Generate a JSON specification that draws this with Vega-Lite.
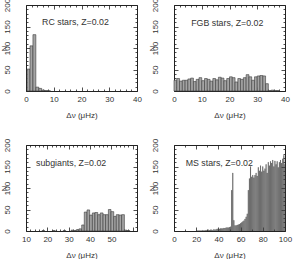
{
  "$schema": "https://vega.github.io/schema/vega-lite/v6.json",
  "autosize": "none",
  "padding": {"left": 26, "top": 5, "right": 269, "bottom": 254},
  "background": "white",
  "datasets": {
    "rc": [
      {"x0": 0.4, "x1": 1.45, "n": 51}, {"x0": 1.45, "x1": 2.5, "n": 105}, {"x0": 2.5, "x1": 3.55, "n": 131},
      {"x0": 3.55, "x1": 4.6, "n": 9}, {"x0": 4.6, "x1": 5.65, "n": 6}, {"x0": 5.65, "x1": 6.7, "n": 2},
      {"x0": 6.7, "x1": 7.75, "n": 1}, {"x0": 7.75, "x1": 8.8, "n": 0.5}
    ],
    "fgb": [
      {"x0": 0, "x1": 1, "n": 25}, {"x0": 1, "x1": 2, "n": 29}, {"x0": 2, "x1": 3, "n": 23}, {"x0": 3, "x1": 4, "n": 25},
      {"x0": 4, "x1": 5, "n": 25}, {"x0": 5, "x1": 6, "n": 28}, {"x0": 6, "x1": 7, "n": 30}, {"x0": 7, "x1": 8, "n": 22},
      {"x0": 8, "x1": 9, "n": 27}, {"x0": 9, "x1": 10, "n": 31}, {"x0": 10, "x1": 11, "n": 24}, {"x0": 11, "x1": 12, "n": 29},
      {"x0": 12, "x1": 13, "n": 27}, {"x0": 13, "x1": 14, "n": 23}, {"x0": 14, "x1": 15, "n": 29}, {"x0": 15, "x1": 16, "n": 26},
      {"x0": 16, "x1": 17, "n": 32}, {"x0": 17, "x1": 18, "n": 30}, {"x0": 18, "x1": 19, "n": 24}, {"x0": 19, "x1": 20, "n": 29},
      {"x0": 20, "x1": 21, "n": 33}, {"x0": 21, "x1": 22, "n": 31}, {"x0": 22, "x1": 23, "n": 21}, {"x0": 23, "x1": 24, "n": 29},
      {"x0": 24, "x1": 25, "n": 27}, {"x0": 25, "x1": 26, "n": 31}, {"x0": 26, "x1": 27, "n": 38}, {"x0": 27, "x1": 28, "n": 33},
      {"x0": 28, "x1": 29, "n": 25}, {"x0": 29, "x1": 30, "n": 33}, {"x0": 30, "x1": 31, "n": 35}, {"x0": 31, "x1": 32, "n": 36},
      {"x0": 32, "x1": 33, "n": 35}, {"x0": 33, "x1": 34, "n": 17}, {"x0": 34, "x1": 35, "n": 1}, {"x0": 35, "x1": 36, "n": 2},
      {"x0": 36, "x1": 37, "n": 1}, {"x0": 37, "x1": 38, "n": 1}
    ],
    "sg": [
      {"x0": 17.5, "x1": 18.7, "n": 1}, {"x0": 22.5, "x1": 23.7, "n": 1}, {"x0": 27.4, "x1": 28.6, "n": 1},
      {"x0": 31.1, "x1": 32.3, "n": 2}, {"x0": 32.3, "x1": 33.5, "n": 1}, {"x0": 33.5, "x1": 34.8, "n": 3},
      {"x0": 34.8, "x1": 36.1, "n": 5}, {"x0": 36.1, "x1": 37.3, "n": 14}, {"x0": 37.3, "x1": 38.6, "n": 44},
      {"x0": 38.6, "x1": 39.8, "n": 49}, {"x0": 39.8, "x1": 41.1, "n": 37}, {"x0": 41.1, "x1": 42.3, "n": 42},
      {"x0": 42.3, "x1": 43.6, "n": 43}, {"x0": 43.6, "x1": 44.8, "n": 38}, {"x0": 44.8, "x1": 46.1, "n": 42},
      {"x0": 46.1, "x1": 47.3, "n": 38}, {"x0": 47.3, "x1": 48.6, "n": 38}, {"x0": 48.6, "x1": 49.8, "n": 50},
      {"x0": 49.8, "x1": 51.1, "n": 45}, {"x0": 51.1, "x1": 52.3, "n": 34}, {"x0": 52.3, "x1": 53.6, "n": 38},
      {"x0": 53.6, "x1": 54.8, "n": 37}, {"x0": 54.8, "x1": 56.1, "n": 38}, {"x0": 56.1, "x1": 57.3, "n": 2},
      {"x0": 57.3, "x1": 58.6, "n": 1}
    ],
    "ms": [
      {"x0": 20, "n": 1}, {"x0": 21, "n": 1}, {"x0": 22, "n": 1}, {"x0": 23, "n": 1}, {"x0": 24, "n": 1},
      {"x0": 25, "n": 2}, {"x0": 26, "n": 1}, {"x0": 27, "n": 2}, {"x0": 28, "n": 2}, {"x0": 29, "n": 2},
      {"x0": 30, "n": 3}, {"x0": 31, "n": 2}, {"x0": 32, "n": 3}, {"x0": 33, "n": 3}, {"x0": 34, "n": 2},
      {"x0": 35, "n": 4}, {"x0": 36, "n": 3}, {"x0": 37, "n": 4}, {"x0": 38, "n": 5}, {"x0": 39, "n": 4},
      {"x0": 40, "n": 5}, {"x0": 41, "n": 6}, {"x0": 42, "n": 6}, {"x0": 43, "n": 6}, {"x0": 44, "n": 7},
      {"x0": 45, "n": 7}, {"x0": 46, "n": 8}, {"x0": 47, "n": 8}, {"x0": 48, "n": 8}, {"x0": 49, "n": 9},
      {"x0": 50, "n": 10}, {"x0": 51, "n": 95}, {"x0": 52, "n": 135}, {"x0": 53, "n": 25}, {"x0": 54, "n": 13},
      {"x0": 55, "n": 13}, {"x0": 56, "n": 14}, {"x0": 57, "n": 15}, {"x0": 58, "n": 16}, {"x0": 59, "n": 18},
      {"x0": 60, "n": 20}, {"x0": 61, "n": 22}, {"x0": 62, "n": 24}, {"x0": 63, "n": 28}, {"x0": 64, "n": 33},
      {"x0": 65, "n": 40}, {"x0": 66, "n": 95}, {"x0": 67, "n": 122}, {"x0": 68, "n": 150}, {"x0": 69, "n": 126},
      {"x0": 70, "n": 130}, {"x0": 71, "n": 124}, {"x0": 72, "n": 130}, {"x0": 73, "n": 135}, {"x0": 74, "n": 128},
      {"x0": 75, "n": 148}, {"x0": 76, "n": 140}, {"x0": 77, "n": 152}, {"x0": 78, "n": 138}, {"x0": 79, "n": 150},
      {"x0": 80, "n": 140}, {"x0": 81, "n": 145}, {"x0": 82, "n": 155}, {"x0": 83, "n": 135}, {"x0": 84, "n": 160},
      {"x0": 85, "n": 152}, {"x0": 86, "n": 162}, {"x0": 87, "n": 158}, {"x0": 88, "n": 165}, {"x0": 89, "n": 150},
      {"x0": 90, "n": 163}, {"x0": 91, "n": 155}, {"x0": 92, "n": 162}, {"x0": 93, "n": 148}, {"x0": 94, "n": 160},
      {"x0": 95, "n": 165}, {"x0": 96, "n": 158}, {"x0": 97, "n": 168}, {"x0": 98, "n": 176}, {"x0": 99, "n": 155}
    ]
  },
  "columns": 2,
  "spacing": {"row": 54, "column": 37},
  "bounds": "flush",
  "concat": [
    {
      "width": 111, "height": 86,
      "layer": [
        {
          "data": {"name": "rc"},
          "mark": {"type": "bar", "fill": "#a4a4a4", "stroke": "#3a3a3a", "strokeWidth": 0.6},
          "encoding": {
            "x": {"field": "x0", "type": "quantitative", "scale": {"domain": [0, 40], "nice": false, "zero": false},
              "axis": {"orient": "bottom", "values": [0,2,4,6,8,10,12,14,16,18,20,22,24,26,28,30,32,34,36,38,40],
                "labelExpr": "datum.value % 10 === 0 ? datum.label : ''",
                "tickSize": {"condition": {"test": "datum.value % 10 === 0", "value": -4}, "value": -2},
                "labelPadding": 8, "labelAngle": 0, "labelOverlap": false, "labelFlush": false,
                "title": "Δν (μHz)", "titlePadding": 6}},
            "x2": {"field": "x1"},
            "y": {"field": "n", "type": "quantitative", "scale": {"domain": [0, 200], "nice": false},
              "axis": {"orient": "left", "values": [0,10,20,30,40,50,60,70,80,90,100,110,120,130,140,150,160,170,180,190,200],
                "labelExpr": "datum.value % 50 === 0 ? datum.label : ''",
                "tickSize": {"condition": {"test": "datum.value % 50 === 0", "value": -4}, "value": -2},
                "labelAngle": -90, "labelAlign": "center", "labelBaseline": "bottom", "labelPadding": 19,
                "labelOverlap": false, "labelFlush": false,
                "title": "N", "titlePadding": -7}},
            "y2": {"datum": 0}
          }
        },
        {
          "data": {"values": [{"tx": 5.8, "ty": 160, "label": "RC stars, Z=0.02"}]},
          "mark": {"type": "text", "align": "left", "baseline": "middle", "font": "Liberation Sans", "fontSize": 8.8, "color": "#333"},
          "encoding": {
            "x": {"field": "tx", "type": "quantitative",
              "axis": {"orient": "top", "values": [0,2,4,6,8,10,12,14,16,18,20,22,24,26,28,30,32,34,36,38,40],
                "labels": false, "title": null,
                "tickSize": {"condition": {"test": "datum.value % 10 === 0", "value": -4}, "value": -2}}},
            "y": {"field": "ty", "type": "quantitative",
              "axis": {"orient": "right", "values": [0,10,20,30,40,50,60,70,80,90,100,110,120,130,140,150,160,170,180,190,200],
                "labels": false, "title": null,
                "tickSize": {"condition": {"test": "datum.value % 50 === 0", "value": -4}, "value": -2}}},
            "text": {"field": "label"}
          }
        }
      ],
      "resolve": {"axis": {"x": "independent", "y": "independent"}}
    },
    {
      "width": 111, "height": 86,
      "layer": [
        {
          "data": {"name": "fgb"},
          "mark": {"type": "bar", "fill": "#a4a4a4", "stroke": "#3a3a3a", "strokeWidth": 0.6},
          "encoding": {
            "x": {"field": "x0", "type": "quantitative", "scale": {"domain": [0, 40], "nice": false, "zero": false},
              "axis": {"orient": "bottom", "values": [0,2,4,6,8,10,12,14,16,18,20,22,24,26,28,30,32,34,36,38,40],
                "labelExpr": "datum.value % 10 === 0 ? datum.label : ''",
                "tickSize": {"condition": {"test": "datum.value % 10 === 0", "value": -4}, "value": -2},
                "labelPadding": 8, "labelAngle": 0, "labelOverlap": false, "labelFlush": false,
                "title": "Δν (μHz)", "titlePadding": 6}},
            "x2": {"field": "x1"},
            "y": {"field": "n", "type": "quantitative", "scale": {"domain": [0, 200], "nice": false},
              "axis": {"orient": "left", "values": [0,10,20,30,40,50,60,70,80,90,100,110,120,130,140,150,160,170,180,190,200],
                "labelExpr": "datum.value % 50 === 0 ? datum.label : ''",
                "tickSize": {"condition": {"test": "datum.value % 50 === 0", "value": -4}, "value": -2},
                "labelAngle": -90, "labelAlign": "center", "labelBaseline": "bottom", "labelPadding": 19,
                "labelOverlap": false, "labelFlush": false,
                "title": "N", "titlePadding": -7}},
            "y2": {"datum": 0}
          }
        },
        {
          "data": {"values": [{"tx": 6.2, "ty": 158, "label": "FGB stars, Z=0.02"}]},
          "mark": {"type": "text", "align": "left", "baseline": "middle", "font": "Liberation Sans", "fontSize": 8.8, "color": "#333"},
          "encoding": {
            "x": {"field": "tx", "type": "quantitative",
              "axis": {"orient": "top", "values": [0,2,4,6,8,10,12,14,16,18,20,22,24,26,28,30,32,34,36,38,40],
                "labels": false, "title": null,
                "tickSize": {"condition": {"test": "datum.value % 10 === 0", "value": -4}, "value": -2}}},
            "y": {"field": "ty", "type": "quantitative",
              "axis": {"orient": "right", "values": [0,10,20,30,40,50,60,70,80,90,100,110,120,130,140,150,160,170,180,190,200],
                "labels": false, "title": null,
                "tickSize": {"condition": {"test": "datum.value % 50 === 0", "value": -4}, "value": -2}}},
            "text": {"field": "label"}
          }
        }
      ],
      "resolve": {"axis": {"x": "independent", "y": "independent"}}
    },
    {
      "width": 111, "height": 86,
      "layer": [
        {
          "data": {"name": "sg"},
          "mark": {"type": "bar", "fill": "#a4a4a4", "stroke": "#3a3a3a", "strokeWidth": 0.6},
          "encoding": {
            "x": {"field": "x0", "type": "quantitative", "scale": {"domain": [10, 62], "nice": false, "zero": false},
              "axis": {"orient": "bottom", "values": [10,12,14,16,18,20,22,24,26,28,30,32,34,36,38,40,42,44,46,48,50,52,54,56,58,60,62],
                "labelExpr": "datum.value % 10 === 0 && datum.value < 60 ? datum.label : ''",
                "tickSize": {"condition": {"test": "datum.value % 10 === 0", "value": -4}, "value": -2},
                "labelPadding": 8, "labelAngle": 0, "labelOverlap": false, "labelFlush": false,
                "title": "Δν (μHz)", "titlePadding": 6}},
            "x2": {"field": "x1"},
            "y": {"field": "n", "type": "quantitative", "scale": {"domain": [0, 200], "nice": false},
              "axis": {"orient": "left", "values": [0,10,20,30,40,50,60,70,80,90,100,110,120,130,140,150,160,170,180,190,200],
                "labelExpr": "datum.value % 50 === 0 ? datum.label : ''",
                "tickSize": {"condition": {"test": "datum.value % 50 === 0", "value": -4}, "value": -2},
                "labelAngle": -90, "labelAlign": "center", "labelBaseline": "bottom", "labelPadding": 19,
                "labelOverlap": false, "labelFlush": false,
                "title": "N", "titlePadding": -7}},
            "y2": {"datum": 0}
          }
        },
        {
          "data": {"values": [{"tx": 14.7, "ty": 158, "label": "subgiants, Z=0.02"}]},
          "mark": {"type": "text", "align": "left", "baseline": "middle", "font": "Liberation Sans", "fontSize": 8.8, "color": "#333"},
          "encoding": {
            "x": {"field": "tx", "type": "quantitative",
              "axis": {"orient": "top", "values": [10,12,14,16,18,20,22,24,26,28,30,32,34,36,38,40,42,44,46,48,50,52,54,56,58,60,62],
                "labels": false, "title": null,
                "tickSize": {"condition": {"test": "datum.value % 10 === 0", "value": -4}, "value": -2}}},
            "y": {"field": "ty", "type": "quantitative",
              "axis": {"orient": "right", "values": [0,10,20,30,40,50,60,70,80,90,100,110,120,130,140,150,160,170,180,190,200],
                "labels": false, "title": null,
                "tickSize": {"condition": {"test": "datum.value % 50 === 0", "value": -4}, "value": -2}}},
            "text": {"field": "label"}
          }
        }
      ],
      "resolve": {"axis": {"x": "independent", "y": "independent"}}
    },
    {
      "width": 111, "height": 86,
      "layer": [
        {
          "data": {"name": "ms"},
          "mark": {"type": "bar", "fill": "#8a8a8a", "stroke": "#3a3a3a", "strokeWidth": 0.5},
          "encoding": {
            "x": {"field": "x0", "type": "quantitative", "bin": {"binned": true, "step": 1}, "scale": {"domain": [0, 100], "nice": false, "zero": false},
              "axis": {"orient": "bottom", "values": [0,10,20,30,40,50,60,70,80,90,100],
                "labelExpr": "datum.value % 20 === 0 ? datum.label : ''",
                "tickSize": {"condition": {"test": "datum.value % 20 === 0", "value": -4}, "value": -2},
                "labelPadding": 8, "labelAngle": 0, "labelOverlap": false, "labelFlush": false,
                "title": "Δν (μHz)", "titlePadding": 6}},
            "y": {"field": "n", "type": "quantitative", "scale": {"domain": [0, 200], "nice": false},
              "axis": {"orient": "left", "values": [0,10,20,30,40,50,60,70,80,90,100,110,120,130,140,150,160,170,180,190,200],
                "labelExpr": "datum.value % 50 === 0 ? datum.label : ''",
                "tickSize": {"condition": {"test": "datum.value % 50 === 0", "value": -4}, "value": -2},
                "labelAngle": -90, "labelAlign": "center", "labelBaseline": "bottom", "labelPadding": 19,
                "labelOverlap": false, "labelFlush": false,
                "title": "N", "titlePadding": -7}}
          }
        },
        {
          "data": {"values": [{"tx": 10.5, "ty": 158, "label": "MS stars, Z=0.02"}]},
          "mark": {"type": "text", "align": "left", "baseline": "middle", "font": "Liberation Sans", "fontSize": 8.8, "color": "#333"},
          "encoding": {
            "x": {"field": "tx", "type": "quantitative",
              "axis": {"orient": "top", "values": [0,10,20,30,40,50,60,70,80,90,100],
                "labels": false, "title": null,
                "tickSize": {"condition": {"test": "datum.value % 20 === 0", "value": -4}, "value": -2}}},
            "y": {"field": "ty", "type": "quantitative",
              "axis": {"orient": "right", "values": [0,10,20,30,40,50,60,70,80,90,100,110,120,130,140,150,160,170,180,190,200],
                "labels": false, "title": null,
                "tickSize": {"condition": {"test": "datum.value % 50 === 0", "value": -4}, "value": -2}}},
            "text": {"field": "label"}
          }
        }
      ],
      "resolve": {"axis": {"x": "independent", "y": "independent"}}
    }
  ],
  "config": {
    "view": {"stroke": "#222", "strokeWidth": 1},
    "axis": {
      "domain": false, "grid": false, "tickColor": "#222", "tickWidth": 0.8,
      "labelFont": "Liberation Sans", "labelFontSize": 8, "labelColor": "#333",
      "titleFont": "Liberation Sans", "titleFontSize": 8, "titleFontWeight": "normal", "titleColor": "#333"
    }
  }
}
